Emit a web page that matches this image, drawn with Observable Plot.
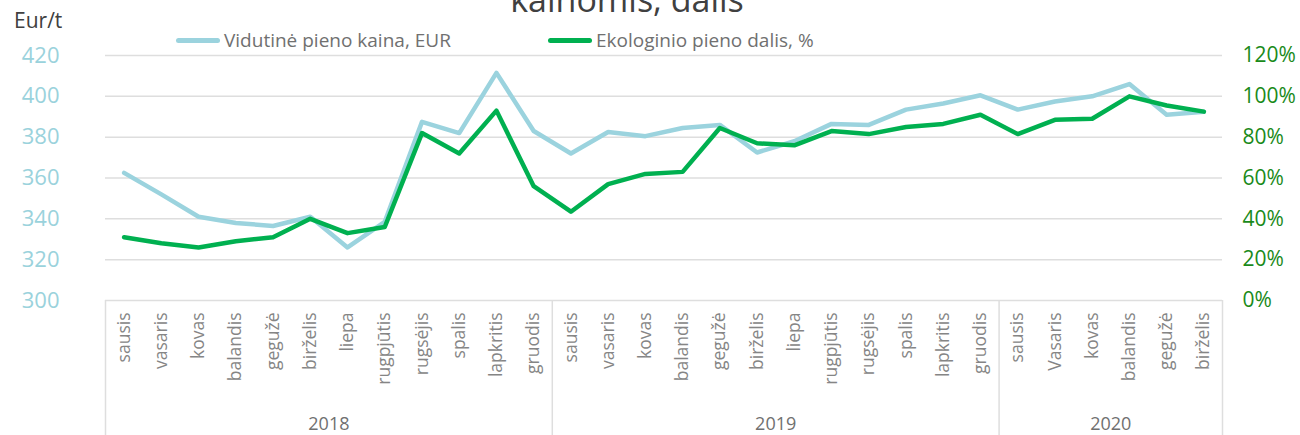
<!DOCTYPE html>
<html>
<head>
<meta charset="utf-8">
<script src="https://cdn.jsdelivr.net/npm/d3@7"></script>
<script src="https://cdn.jsdelivr.net/npm/@observablehq/plot@0.6"></script>
<style>
  html, body { margin: 0; padding: 0; background: #fff; }
  #wrap { position: relative; width: 1300px; height: 435px; overflow: hidden; font-family: "Open Sans", sans-serif; }
  #chart { position: absolute; left: 0; top: 0; }
  .title { position: absolute; left: 0; width: 1254px; text-align: center; top: -18px; font-size: 34px; line-height: 34px; color: #404040; }
  .unit { position: absolute; left: 14px; top: 6px; font-size: 21px; color: #404040; }
  .legend { position: absolute; top: 27px; font-size: 19px; color: #707070; display: flex; align-items: center; white-space: nowrap; }
  .legend .sw { display: inline-block; width: 44px; height: 5px; border-radius: 3px; margin-right: 4px; }
</style>
</head>
<body>
<div id="wrap">
  <div id="chart"></div>
  <div class="title">kainomis, dalis</div>
  <div class="unit">Eur/t</div>
  <div class="legend" style="left:176px"><span class="sw" style="background:#9bd3de"></span>Vidutinė pieno kaina, EUR</div>
  <div class="legend" style="left:548px"><span class="sw" style="background:#00b050"></span>Ekologinio pieno dalis, %</div>
</div>
<script>
// ---- data ----
const months = [
  "sausis","vasaris","kovas","balandis","gegužė","birželis","liepa","rugpjūtis","rugsėjis","spalis","lapkritis","gruodis",
  "sausis","vasaris","kovas","balandis","gegužė","birželis","liepa","rugpjūtis","rugsėjis","spalis","lapkritis","gruodis",
  "sausis","Vasaris","kovas","balandis","gegužė","birželis"
];
const yearNames = ["2018", "2019", "2020"];
const yearCounts = [12, 12, 6];
const price = [362.5, 352, 341, 338, 336.5, 341, 326, 338.5, 387.5, 382, 411.5, 383,
               372, 382.5, 380.5, 384.5, 386, 372.5, 378, 386.5, 386, 393.5, 396.5, 400.5,
               393.5, 397.5, 400, 406, 391, 392.5];
const share = [31, 28, 26, 29, 31, 40, 33, 36, 82, 72, 93, 56,
               43.5, 57, 62, 63, 84.5, 77, 76, 83, 81.5, 85, 86.5, 91,
               81.5, 88.5, 89, 100, 95.5, 92.5];
const priceTicks = [300, 320, 340, 360, 380, 400, 420];
const shareTicks = [0, 20, 40, 60, 80, 100, 120];

// ---- derived tables ----
const yMin = priceTicks[0], yMax = priceTicks[priceTicks.length - 1];
const sMax = shareTicks[shareTicks.length - 1];
const shareToY = s => yMin + s * (yMax - yMin) / sMax;

const rows = months.map((m, i) => ({i, month: m, price: price[i], share: share[i]}));
let start = 0;
const groups = yearNames.map((y, k) => {
  const g = {year: y, from: start - 0.5, to: start + yearCounts[k] - 0.5, mid: start + (yearCounts[k] - 1) / 2};
  start += yearCounts[k];
  return g;
});
const bounds = [groups[0].from, ...groups.map(g => g.to)];

const chart = Plot.plot({
  width: 1300,
  height: 435,
  marginLeft: 105,
  marginRight: 78,
  marginTop: 55,
  marginBottom: 135,
  style: {fontFamily: "'Open Sans', sans-serif", background: "transparent"},
  x: {type: "linear", domain: [-0.5, months.length - 0.5], axis: null},
  y: {domain: [yMin, yMax], axis: null},
  marks: [
    Plot.ruleY(priceTicks, {stroke: "#dedede", strokeWidth: 1.5}),
    Plot.ruleX(bounds, {x: d => d, y1: yMin, y2: yMin, insetBottom: -135, stroke: "#dedede", strokeWidth: 1.5}),
    Plot.axisY(priceTicks, {anchor: "left", tickSize: 0, tickPadding: 46, fontSize: 22, fill: "#9ad2dc", label: null}),
    Plot.axisY(priceTicks, {anchor: "right", tickSize: 0, tickPadding: 20, fontSize: 21, fill: "#1a8a1a", label: null,
      tickFormat: (d) => shareTicks[priceTicks.indexOf(d)] + "%"}),
    Plot.text(rows, {x: "i", y: yMin, text: "month", rotate: -90, textAnchor: "end", dy: 12, fontSize: 17.5, fill: "#858585"}),
    Plot.text(groups, {x: "mid", y: yMin, text: "year", dy: 124, fontSize: 18, fill: "#707070"}),
    Plot.lineY(rows, {x: "i", y: "price", stroke: "#9bd3de", strokeWidth: 4.5}),
    Plot.lineY(rows, {x: "i", y: d => shareToY(d.share), stroke: "#00b050", strokeWidth: 4.5})
  ]
});
document.getElementById("chart").appendChild(chart);
</script>
</body>
</html>
